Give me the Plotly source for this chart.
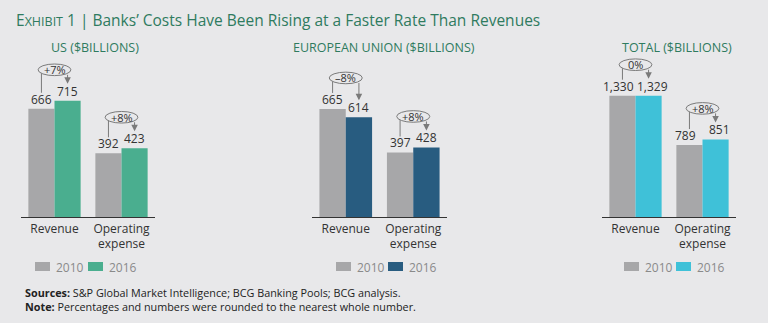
import plotly.graph_objects as go

# ---------------- data ----------------
categories = ["Revenue", "Operating<br>expense"]
panel_titles = ["US ($BILLIONS)", "EUROPEAN UNION ($BILLIONS)", "TOTAL ($BILLIONS)"]
years = ["2010", "2016"]
us_2010 = [666, 392]
us_2016 = [715, 423]
eu_2010 = [665, 397]
eu_2016 = [614, 428]
total_2010 = [1330, 789]
total_2016 = [1329, 851]
us_pct = ["+7%", "+8%"]
eu_pct = ["\u20138%", "+8%"]
total_pct = ["0%", "+8%"]

# ---------------- style ----------------
W, H = 768, 323
BG = "#e8e8ea"
GREEN_TITLE = "#2f7b5f"
GRAY_BAR = "#a7a7a9"
TXT = "#333333"
ARROW = "#7a7a7a"
FONT = "Open Sans"
panel_colors = ["#4aae8f", "#285c80", "#3fc1d8"]
panel_xdom_px = [(21, 155), (312, 447), (602, 736)]
px_per_unit = [0.1625, 0.1625, 0.0912]
label_spread_px = [0, 0, 4]
baseline_px, top_px = 217, 55
title_centers_px = [95, 384, 677]
legend_px = [(35, 88), (336, 388), (624, 676)]

panels = [
    (us_2010, us_2016, us_pct),
    (eu_2010, eu_2016, eu_pct),
    (total_2010, total_2016, total_pct),
]

ydom = [1 - baseline_px / H, 1 - top_px / H]
plot_h = baseline_px - top_px

fig = go.Figure()
shapes = []
annotations = []

half_bar = 0.195
for k, (v10, v16, pct) in enumerate(panels):
    ax = "" if k == 0 else str(k + 1)
    xref, yref = "x" + ax, "y" + ax
    col = panel_colors[k]
    rng = plot_h / px_per_unit[k]
    cat_px = (panel_xdom_px[k][1] - panel_xdom_px[k][0]) / 2.0
    bar_off_px = half_bar * cat_px
    for vals, c, nm, sgn in ((v10, GRAY_BAR, years[0], -1), (v16, col, years[1], 1)):
        fig.add_trace(go.Bar(
            x=categories, y=vals, name=nm, marker=dict(color=c, line=dict(width=0)),
            xaxis=xref, yaxis=yref, showlegend=False, textposition="none",
        ))
        for i, v in enumerate(vals):
            annotations.append(dict(
                xref=xref, yref=yref, x=i, y=v, yanchor="bottom", xanchor="center",
                xshift=sgn * (bar_off_px + label_spread_px[k]), yshift=0,
                text=f"{v:,}", showarrow=False, borderpad=0,
                font=dict(size=12, color=TXT, family=FONT)))
    x0p, x1p = panel_xdom_px[k]
    fig.layout["xaxis" + ax] = dict(
        domain=[x0p / W, x1p / W], anchor=yref, range=[-0.5, 1.5], type="category",
        showline=True, linecolor="#333333", linewidth=1.2, ticks="", showgrid=False,
        tickfont=dict(size=12, color=TXT, family=FONT), fixedrange=True,
    )
    fig.layout["yaxis" + ax] = dict(
        domain=ydom, anchor=xref, range=[0, rng], visible=False,
        showgrid=False, zeroline=False, fixedrange=True,
    )
    u = 1 / px_per_unit[k]  # data units per pixel
    for i in range(2):
        g, t = v10[i], v16[i]
        ey = max(g, t) + 31 * u
        shapes.append(dict(type="line", xref=xref, yref=yref,
                           x0=i - half_bar, x1=i - half_bar, y0=g + 16 * u, y1=ey,
                           line=dict(color=ARROW, width=1)))
        shapes.append(dict(type="circle", xref=xref, yref=yref,
                           x0=i - 0.245, x1=i + 0.245, y0=ey - 5.8 * u, y1=ey + 5.8 * u,
                           fillcolor=BG, line=dict(color=ARROW, width=1)))
        annotations.append(dict(xref=xref, yref=yref, x=i, y=ey, text=pct[i],
                                showarrow=False, font=dict(size=11, color=TXT, family=FONT)))
        annotations.append(dict(xref=xref, yref=yref, x=i + half_bar, y=t + 17 * u,
                                axref=xref, ayref=yref, ax=i + half_bar, ay=ey - 3.5 * u,
                                text="", showarrow=True, arrowhead=2, arrowsize=1.3,
                                arrowwidth=1, arrowcolor=ARROW, standoff=0, startstandoff=0))
    # panel title
    annotations.append(dict(xref="paper", yref="paper", x=title_centers_px[k] / W, y=1 - 47 / H,
                            text=panel_titles[k], showarrow=False, xanchor="center", yanchor="middle",
                            font=dict(size=12.5, color=GREEN_TITLE, family=FONT)))
    # legend
    for j, xs in enumerate(legend_px[k]):
        c = GRAY_BAR if j == 0 else col
        shapes.append(dict(type="rect", xref="paper", yref="paper",
                           x0=xs / W, x1=(xs + 15) / W, y0=1 - 271 / H, y1=1 - 262 / H,
                           fillcolor=c, line=dict(width=0)))
        annotations.append(dict(xref="paper", yref="paper", x=(xs + 19) / W, y=1 - 267 / H,
                                text=years[j], showarrow=False, xanchor="left", yanchor="middle",
                                font=dict(size=12, color="#8a8a8a", family=FONT)))

# main title
annotations.append(dict(
    xref="paper", yref="paper", x=14 / W, y=1 - 20 / H, xanchor="left", yanchor="middle",
    text="E<span style='font-size:12.5px'>XHIBIT</span> 1 | Banks\u2019 Costs Have Been Rising at a Faster Rate Than Revenues",
    showarrow=False, font=dict(size=15.5, color=GREEN_TITLE, family=FONT)))

# footnotes
annotations.append(dict(
    xref="paper", yref="paper", x=23 / W, y=1 - 299 / H, xanchor="left", yanchor="middle", align="left",
    text="<b>Sources:</b> S&P Global Market Intelligence; BCG Banking Pools; BCG analysis."
         "<br><b>Note:</b> Percentages and numbers were rounded to the nearest whole number.",
    showarrow=False, font=dict(size=10.8, color="#222222", family=FONT)))

fig.update_layout(
    width=W, height=H, margin=dict(l=0, r=0, t=0, b=0),
    paper_bgcolor=BG, plot_bgcolor=BG,
    barmode="group", bargap=0.22, bargroupgap=0,
    shapes=shapes, annotations=annotations, showlegend=False,
    font=dict(family=FONT, color=TXT),
)

fig.write_html("out.html", config={"displayModeBar": False})
